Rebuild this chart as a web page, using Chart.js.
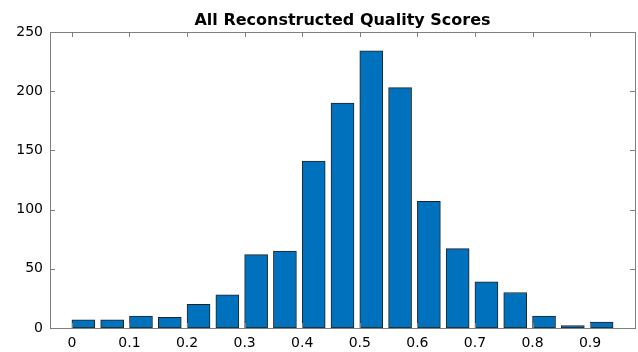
<!DOCTYPE html>
<html>
<head>
<meta charset="utf-8">
<script src="https://cdn.jsdelivr.net/npm/chart.js@4"></script>
<style>
  html, body { margin: 0; padding: 0; background: #fff; }
  #wrap { width: 638px; height: 352px; }
</style>
</head>
<body>
<div id="wrap"><canvas id="chart" width="638" height="352"></canvas></div>
<script>
// histogram bins (bar centres) and counts
const binCenters = [0.02, 0.07, 0.12, 0.17, 0.22, 0.27, 0.32, 0.37, 0.42, 0.47,
                    0.52, 0.57, 0.62, 0.67, 0.72, 0.77, 0.82, 0.87, 0.92];
const counts = [7, 7, 10, 9, 20, 28, 62, 65, 141, 190,
                234, 203, 107, 67, 39, 30, 10, 2, 5];
const xTicks = [0, 0.1, 0.2, 0.3, 0.4, 0.5, 0.6, 0.7, 0.8, 0.9];
const yTicks = [0, 50, 100, 150, 200, 250];
const title = 'All Reconstructed Quality Scores';

const FONT = '"DejaVu Sans", sans-serif';
const AXIS = '#7f7f7f';

// matlab style box with inward ticks + title
const boxPlugin = {
  id: 'box',
  afterDraw(chart) {
    const { ctx, chartArea: a, scales } = chart;
    ctx.save();
    ctx.strokeStyle = AXIS;
    ctx.lineWidth = 1;
    ctx.strokeRect(Math.round(a.left) + 0.5, Math.round(a.top) + 0.5,
      Math.round(a.right - a.left), Math.round(a.bottom - a.top));
    ctx.beginPath();
    xTicks.forEach(v => {
      const x = Math.round(scales.x.getPixelForValue(v)) + 0.5;
      ctx.moveTo(x, a.bottom); ctx.lineTo(x, a.bottom - 5);
      ctx.moveTo(x, a.top); ctx.lineTo(x, a.top + 5);
    });
    yTicks.forEach(v => {
      const y = Math.round(scales.y.getPixelForValue(v)) + 0.5;
      ctx.moveTo(a.left, y); ctx.lineTo(a.left + 5, y);
      ctx.moveTo(a.right, y); ctx.lineTo(a.right - 5, y);
    });
    ctx.stroke();

    ctx.fillStyle = '#000';
    ctx.font = 'bold 16px ' + FONT;
    ctx.textAlign = 'center';
    ctx.textBaseline = 'alphabetic';
    ctx.fillText(title, (a.left + a.right) / 2, 25);
    ctx.restore();
  }
};

new Chart(document.getElementById('chart'), {
  type: 'bar',
  data: {
    datasets: [{
      data: binCenters.map((x, i) => ({ x: x, y: counts[i] })),
      backgroundColor: '#0072BD',
      borderColor: '#222222',
      borderWidth: 1,
      borderSkipped: false,
      barThickness: 23
    }]
  },
  options: {
    responsive: false,
    animation: false,
    layout: { padding: { top: 32, right: 3, left: 0, bottom: 0 } },
    plugins: { legend: { display: false }, tooltip: { enabled: false } },
    scales: {
      x: {
        type: 'linear',
        min: -0.038,
        max: 0.978,
        offset: false,
        grid: { display: false, drawTicks: false },
        border: { display: false },
        afterBuildTicks: s => { s.ticks = xTicks.map(v => ({ value: v })); },
        afterFit: s => { s.height = 24; },
        ticks: {
          color: '#000',
          padding: 7,
          maxRotation: 0,
          autoSkip: false,
          font: { family: FONT, size: 14 },
          callback: v => String(v)
        }
      },
      y: {
        min: 0,
        max: 250,
        grid: { display: false, drawTicks: false },
        border: { display: false },
        afterBuildTicks: s => { s.ticks = yTicks.map(v => ({ value: v })); },
        afterFit: s => { s.width = 50; },
        ticks: {
          color: '#000',
          padding: 7,
          font: { family: FONT, size: 14 }
        }
      }
    }
  },
  plugins: [boxPlugin]
});
</script>
</body>
</html>
